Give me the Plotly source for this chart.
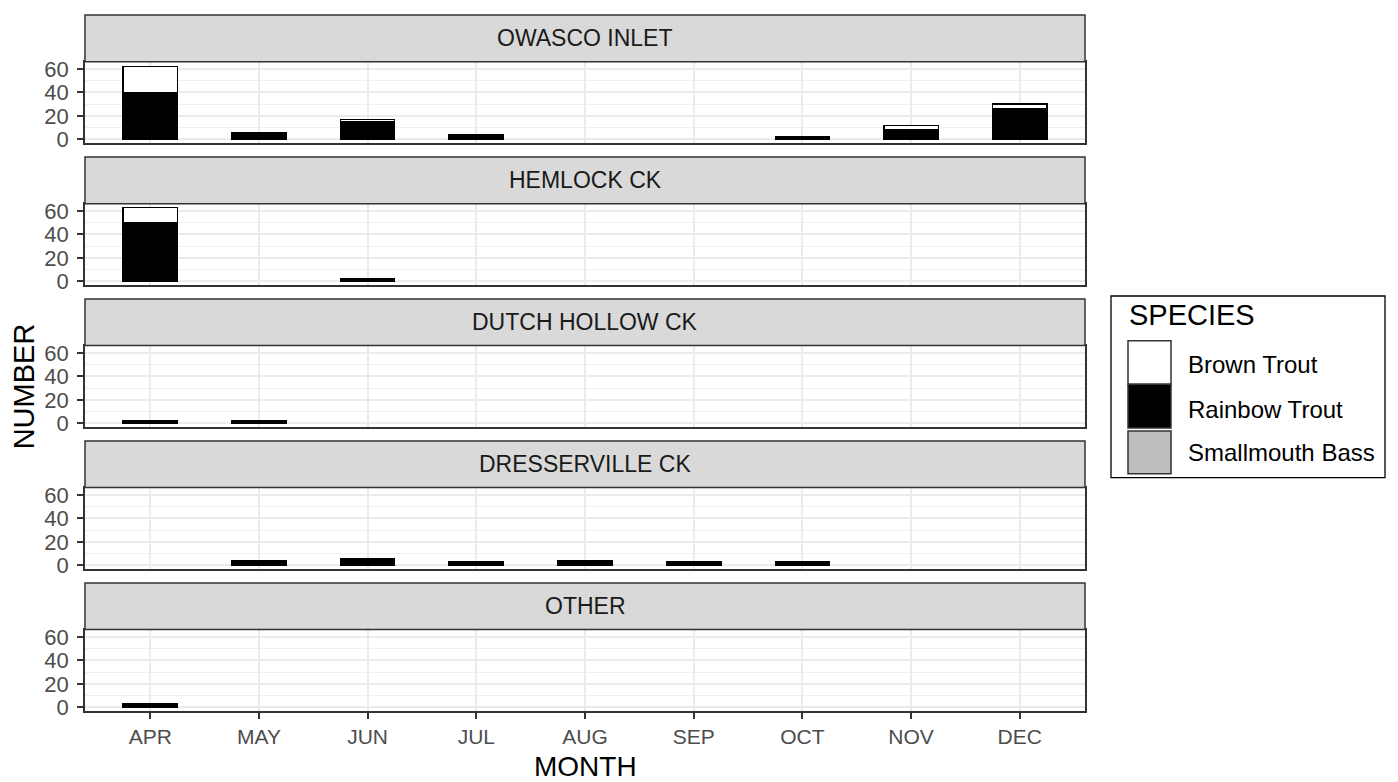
import plotly.graph_objects as go
from plotly.subplots import make_subplots

# ---------------- data ----------------
months = ["APR", "MAY", "JUN", "JUL", "AUG", "SEP", "OCT", "NOV", "DEC"]
locations = ["OWASCO INLET", "HEMLOCK CK", "DUTCH HOLLOW CK", "DRESSERVILLE CK", "OTHER"]
species = ["Brown Trout", "Rainbow Trout", "Smallmouth Bass"]

owasco_brown = [22, 0, 2, 0, 0, 0, 0, 4, 4]
owasco_rainbow = [40, 6, 15, 4, 0, 0, 2, 8, 26]
owasco_bass = [0, 0, 0, 0, 0, 0, 0, 0, 0]

hemlock_brown = [13, 0, 0, 0, 0, 0, 0, 0, 0]
hemlock_rainbow = [50, 0, 2, 0, 0, 0, 0, 0, 0]
hemlock_bass = [0, 0, 0, 0, 0, 0, 0, 0, 0]

dutch_brown = [0, 0, 0, 0, 0, 0, 0, 0, 0]
dutch_rainbow = [2, 2, 0, 0, 0, 0, 0, 0, 0]
dutch_bass = [0, 0, 0, 0, 0, 0, 0, 0, 0]

dresser_brown = [0, 0, 0, 0, 0, 0, 0, 0, 0]
dresser_rainbow = [0, 4, 6, 3, 4, 3, 3, 0, 0]
dresser_bass = [0, 0, 0, 0, 0, 0, 0, 0, 0]

other_brown = [0, 0, 0, 0, 0, 0, 0, 0, 0]
other_rainbow = [3, 0, 0, 0, 0, 0, 0, 0, 0]
other_bass = [0, 0, 0, 0, 0, 0, 0, 0, 0]

y_ticks = [0, 20, 40, 60]
y_minor = [10, 30, 50]

species_colors = {"Brown Trout": "#FFFFFF", "Rainbow Trout": "#000000", "Smallmouth Bass": "#BEBEBE"}

panel_data = [
    {"Brown Trout": owasco_brown, "Rainbow Trout": owasco_rainbow, "Smallmouth Bass": owasco_bass},
    {"Brown Trout": hemlock_brown, "Rainbow Trout": hemlock_rainbow, "Smallmouth Bass": hemlock_bass},
    {"Brown Trout": dutch_brown, "Rainbow Trout": dutch_rainbow, "Smallmouth Bass": dutch_bass},
    {"Brown Trout": dresser_brown, "Rainbow Trout": dresser_rainbow, "Smallmouth Bass": dresser_bass},
    {"Brown Trout": other_brown, "Rainbow Trout": other_rainbow, "Smallmouth Bass": other_bass},
]

# ---------------- layout geometry (pixels) ----------------
W, H = 1398, 782
L, R, T, B = 85, 1085, 10, 711
PW, PH = R - L, B - T
PERIOD = 143
PANEL_H = 82

def px_x(x):
    return (x - L) / PW

def px_y(y):
    return (B - y) / PH

FONT = "Liberation Sans, Arial, sans-serif"
TICK = 21
STRIP = 23
LEG = 24
BIG = 28

fig = make_subplots(rows=5, cols=1)

stack_order = ["Smallmouth Bass", "Rainbow Trout", "Brown Trout"]
for i, data in enumerate(panel_data):
    for sp in stack_order:
        vals = [v if v > 0 else None for v in data[sp]]
        fig.add_trace(
            go.Bar(
                x=months, y=vals, name=sp, width=0.5,
                marker=dict(color=species_colors[sp], line=dict(color="#000000", width=1.3)),
                showlegend=False, hoverinfo="x+y+name",
            ),
            row=i + 1, col=1,
        )

fig.update_layout(
    barmode="stack",
    width=W, height=H,
    margin=dict(l=L, r=W - R, t=T, b=H - B),
    paper_bgcolor="white", plot_bgcolor="white",
    font=dict(family=FONT, size=TICK, color="#4D4D4D"),
)

shapes = []
annotations = []
for i in range(5):
    n = i + 1
    ptop = 57 + PERIOD * i
    pbot = ptop + PANEL_H
    stop = 10 + PERIOD * i
    yk = "yaxis" if n == 1 else f"yaxis{n}"
    xk = "xaxis" if n == 1 else f"xaxis{n}"
    last = (n == 5)
    fig.layout[yk].update(
        domain=[px_y(pbot), px_y(ptop)],
        range=[-3.15, 66.15],
        tickvals=y_ticks, ticktext=[str(v) for v in y_ticks],
        ticks="outside", ticklen=6, tickcolor="#333333", tickwidth=1.5,
        ticklabelstandoff=4,
        tickfont=dict(family=FONT, size=TICK + 1, color="#4D4D4D"),
        showgrid=True, gridcolor="#EBEBEB", gridwidth=1.5,
        minor=dict(tickvals=y_minor, showgrid=True, gridcolor="#EFEFEF", gridwidth=1, ticks=""),
        zeroline=False,
        showline=True, mirror=True, linecolor="#333333", linewidth=1.5,
    )
    fig.layout[xk].update(
        domain=[0, 1],
        type="category", categoryorder="array", categoryarray=months,
        range=[-0.6, 8.6],
        showgrid=True, gridcolor="#EBEBEB", gridwidth=1.5,
        zeroline=False,
        showline=True, mirror=True, linecolor="#333333", linewidth=1.5,
        showticklabels=last,
        ticks="outside" if last else "", ticklen=6, tickcolor="#333333", tickwidth=1.5,
        tickfont=dict(family=FONT, size=TICK, color="#4D4D4D"),
    )
    # strip
    shapes.append(dict(type="rect", xref="paper", yref="paper",
                       x0=0, x1=1, y0=px_y(ptop), y1=px_y(stop),
                       fillcolor="#D9D9D9", line=dict(color="#333333", width=1.5), layer="above"))
    annotations.append(dict(text=locations[i], xref="paper", yref="paper",
                            x=0.5, y=px_y((stop + ptop) / 2), showarrow=False,
                            xanchor="center", yanchor="middle",
                            font=dict(family=FONT, size=STRIP, color="#1A1A1A")))

# axis titles
annotations.append(dict(text="MONTH", xref="paper", yref="paper", x=0.5, y=px_y(767),
                        showarrow=False, xanchor="center", yanchor="middle",
                        font=dict(family=FONT, size=BIG, color="#000000")))
annotations.append(dict(text="NUMBER", xref="paper", yref="paper", x=px_x(24), y=px_y(384),
                        showarrow=False, xanchor="center", yanchor="middle", textangle=-90,
                        font=dict(family=FONT, size=BIG + 1, color="#000000")))

# legend (drawn manually)
shapes.append(dict(type="rect", xref="paper", yref="paper",
                   x0=px_x(1111), x1=px_x(1385), y0=px_y(476), y1=px_y(293),
                   fillcolor="white", line=dict(color="#000000", width=1.3)))
annotations.append(dict(text="SPECIES", xref="paper", yref="paper", x=px_x(1127), y=px_y(312),
                        showarrow=False, xanchor="left", yanchor="middle",
                        font=dict(family=FONT, size=BIG + 1, color="#000000")))
key_boxes = [(338, 382), (382, 426), (429, 472)]
label_y = [362, 407, 451]
for sp, (k0, k1), ly in zip(species, key_boxes, label_y):
    shapes.append(dict(type="rect", xref="paper", yref="paper",
                       x0=px_x(1128), x1=px_x(1171), y0=px_y(k1), y1=px_y(k0),
                       fillcolor=species_colors[sp], line=dict(color="#333333", width=1.5)))
    annotations.append(dict(text=sp, xref="paper", yref="paper", x=px_x(1186), y=px_y(ly),
                            showarrow=False, xanchor="left", yanchor="middle",
                            font=dict(family=FONT, size=LEG, color="#000000")))

fig.update_layout(shapes=shapes, annotations=annotations)

fig.write_html("out.html",
               config={"displayModeBar": False},
               post_script="document.body.style.margin='0';document.body.style.overflow='hidden';")
